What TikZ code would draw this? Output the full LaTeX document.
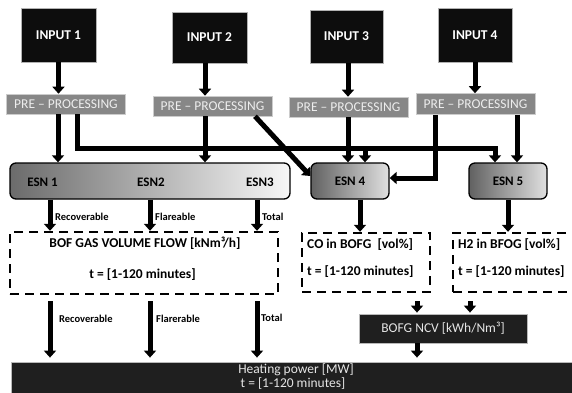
\documentclass[tikz,border=0pt]{standalone}
\usepackage{fontspec}
\setmainfont{Carlito}
\usetikzlibrary{arrows.meta}

\begin{document}
\begin{tikzpicture}[x=1pt,y=-1pt,
  inbox/.style={draw=gray!60,line width=0.6pt,fill=black!95,text=white,
    font=\bfseries\fontsize{13.5}{15}\selectfont,inner sep=0pt},
  ppbox/.style={draw=gray!40,line width=0.6pt,fill=black!47,text=black!7,
    font=\fontsize{13.5}{15}\selectfont,minimum width=119pt,minimum height=20pt,inner sep=0pt},
  esnbox/.style={draw=black,line width=1.3pt,rounded corners=6pt,
    font=\bfseries\fontsize{13}{15}\selectfont,inner sep=0pt,minimum height=36pt},
  dbox/.style={draw=black,line width=2.4pt,dash pattern=on 9pt off 6pt,inner sep=0pt},
  darkbox/.style={draw=gray!55,line width=0.8pt,fill=black!88,text=black!10,
    font=\fontsize{13.5}{15}\selectfont,inner sep=0pt},
  arr/.style={line width=5pt,-{Triangle[width=12pt,length=7pt]}},
  lbl/.style={font=\bfseries\fontsize{10.5}{12}\selectfont,anchor=west,inner sep=0pt},
  txt/.style={font=\bfseries\fontsize{13.5}{15}\selectfont,inner sep=0pt},
  ltxt/.style={txt,anchor=west},
  esntxt/.style={font=\bfseries\fontsize{13}{15}\selectfont,inner sep=0pt}
]
\useasboundingbox (0,0) rectangle (572,392);

% inputs
\node[inbox,minimum width=75pt,minimum height=54pt] (in1) at (58.5,35) {INPUT 1};
\node[inbox,minimum width=75pt,minimum height=51pt] (in2) at (209.5,37.5) {INPUT 2};
\node[inbox,minimum width=73pt,minimum height=53pt] (in3) at (346.5,36.5) {INPUT 3};
\node[inbox,minimum width=74pt,minimum height=54pt] (in4) at (475,35) {INPUT 4};

% pre-processing
\node[ppbox] (pp1) at (66,104) {PRE – PROCESSING};
\node[ppbox] (pp2) at (212.5,106) {PRE – PROCESSING};
\node[ppbox] (pp3) at (348.5,107) {PRE – PROCESSING};
\node[ppbox,minimum height=21pt] (pp4) at (475.5,104) {PRE – PROCESSING};

% estimation networks
\node[esnbox,minimum width=280pt,left color=black!58,right color=black!3] (esn) at (150,181) {};
\node[esntxt] (e1) at (42.5,182) {ESN 1};
\node[esntxt] (e2) at (151,182) {ESN2};
\node[esntxt] (e3) at (260,182) {ESN3};
\node[esnbox,minimum width=78pt,left color=black!62,right color=black!12] (esn4) at (350,181) {ESN 4};
\node[esnbox,minimum width=78pt,left color=black!62,right color=black!12] (esn5) at (508,181) {ESN 5};

% output boxes
\node[dbox,minimum width=268pt,minimum height=62pt] (flow) at (144,263) {};
\node[txt] (flowt) at (145,243.5) {BOF GAS VOLUME FLOW [kNm³/h]};
\node[txt] (flowh) at (142.5,275) {t = [1-120 minutes]};

\node[dbox,minimum width=128pt,minimum height=59pt] (co) at (366,262.5) {};
\node[ltxt] (cot) at (307,245) {CO in BOFG\ \ [vol\%]};
\node[ltxt] (coh) at (307,272) {t = [1-120 minutes]};

\node[dbox,minimum width=147pt,minimum height=59pt] (h2) at (526.5,262.5) {};
\node[ltxt] (h2t) at (458,245) {H2 in BFOG [vol\%]};
\node[ltxt] (h2h) at (458,272) {t = [1-120 minutes]};

\node[darkbox,minimum width=168pt,minimum height=29pt] (ncv) at (443,328.5) {BOFG NCV [kWh/Nm³]};
\node[darkbox,minimum width=589pt,minimum height=48pt] (heat) at (305.5,386) {};
\node[darkbox,draw=none,fill=none] (heat1) at (296,370) {Heating power [MW]};
\node[darkbox,draw=none,fill=none] (heat2) at (293,384) {t = [1-120 minutes]};

% connector columns and rails
\coordinate (c1) at (58,0);
\coordinate (bus) at (77,148);
\coordinate (c2) at (205,0);
\coordinate (dg) at (255,0);
\coordinate (dgend) at (0,176);
\coordinate (c3) at (348,0);
\coordinate (c4) at (365,0);
\coordinate (c6) at (435,0);
\coordinate (ret) at (0,178);
\coordinate (c5) at (495,0);
\coordinate (c7) at (517,0);
\coordinate (d1) at (50,0);
\coordinate (d2) at (150,0);
\coordinate (d3) at (257,0);
\coordinate (d4) at (360,0);
\coordinate (d5) at (508,0);
\coordinate (d6) at (417,0);
\coordinate (d7) at (470,0);

% inputs to pre-processing
\draw[arr] (in1.south) -- (in1.south |- pp1.north);
\draw[arr] (in2.south -| c2) -- (pp2.north -| c2);
\draw[arr] (in3.south -| c3) -- (pp3.north -| c3);
\draw[arr] (in4.south) -- (in4.south |- pp4.north);

% pre-processing to networks
\draw[arr] (pp1.south -| c1) -- (esn.north -| c1);
\draw[arr] (pp1.south -| bus) |- (bus -| c5) -- (esn5.north -| c5);
\draw[arr] (bus -| c4) -- (esn4.north -| c4);
\draw[arr] (pp2.south -| c2) -- (esn.north -| c2);
\draw[arr] (pp2.south -| dg) -- (esn4.west |- dgend);
\draw[arr] (pp3.south -| c3) -- (esn4.north -| c3);
\draw[arr] (pp4.south -| c6) |- (esn4.east |- ret);
\draw[arr] (pp4.south -| c7) -- (esn5.north -| c7);

% networks to outputs
\draw[arr] (esn.south -| d1) -- (flow.north -| d1);
\draw[arr] (esn.south -| d2) -- (flow.north -| d2);
\draw[arr] (esn.south -| d3) -- (flow.north -| d3);
\draw[arr] (esn4.south -| d4) -- (co.north -| d4);
\draw[arr] (esn5.south -| d5) -- (h2.north -| d5);
\node[lbl] (l1) at (55,216.5) {Recoverable};
\node[lbl] (l2) at (155,216.5) {Flareable};
\node[lbl] (l3) at (262,216.5) {Total};

% outputs to heating power
\draw[arr,shorten <=6pt,shorten >=4pt] (flow.south -| d1) -- (heat.north -| d1);
\draw[arr,shorten <=6pt,shorten >=4pt] (flow.south -| d2) -- (heat.north -| d2);
\draw[arr,shorten <=6pt,shorten >=4pt] (flow.south -| d3) -- (heat.north -| d3);
\node[lbl] (l4) at (59,319) {Recoverable};
\node[lbl] (l5) at (156,319) {Flarerable};
\node[lbl] (l6) at (261,318) {Total};

\draw[arr,shorten <=8pt,shorten >=1pt] (co.south -| d6) -- (ncv.north -| d6);
\draw[arr,shorten <=8pt,shorten >=1pt] (h2.south -| d7) -- (ncv.north -| d7);
\draw[arr,shorten >=4pt] (ncv.south -| d6) -- (heat.north -| d6);
\end{tikzpicture}
\end{document}
